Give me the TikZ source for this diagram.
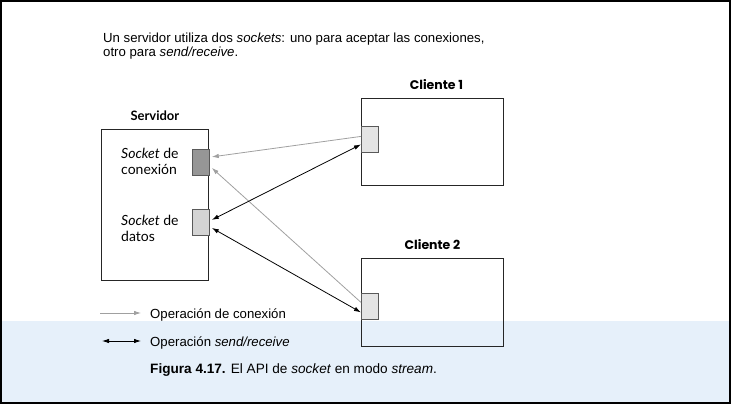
\documentclass[tikz,border=0pt]{standalone}
\usepackage{fontspec}
\setmainfont{Liberation Sans}
\newfontfamily\humfont{Lato}
\newfontfamily\geofont{Poppins}
\usetikzlibrary{arrows.meta,positioning}

\definecolor{bandblue}{RGB}{230,240,250}
\definecolor{conngray}{RGB}{160,160,160}
\definecolor{darksock}{RGB}{150,150,150}
\definecolor{lightsock}{RGB}{212,212,212}
\definecolor{clisock}{RGB}{228,228,228}

\begin{document}
\begin{tikzpicture}[x=1pt,y=-1pt,
	host/.style={draw=black!85, line width=0.8pt, inner sep=0pt, anchor=north west},
	hostname/.style={inner sep=0pt, font=\geofont\fontsize{12.5}{14}\selectfont},
	sock/.style={draw=black!65, line width=0.8pt, inner sep=0pt, anchor=north west,
		minimum width=17pt, minimum height=26pt},
	socktext/.style={inner sep=0pt, anchor=north west, align=left,
		font=\humfont\fontsize{14}{15.5}\selectfont},
	txt/.style={inner sep=0pt, anchor=base west, font=\fontsize{13.2}{15}\selectfont},
	conn/.style={draw=conngray, line width=0.8pt, -{Latex[length=7pt,width=4.5pt]}},
	sendrecv/.style={draw=black, line width=0.8pt,
		{Latex[length=7pt,width=4.5pt]}-{Latex[length=7pt,width=4.5pt]}}]
	\useasboundingbox (0,0) rectangle (731,404);
	% caption band
	\fill [bandblue] (2,321) rectangle (729,402);
	\draw [line width=2pt] (1,1) rectangle (730,403);

	\node [txt] (intro1) at (103,43) {Un servidor utiliza dos \textit{sockets}: uno para aceptar las conexiones,};
	\node [txt] (intro2) at (103,57) {otro para \textit{send/receive}.};

	% servidor
	\node [host, minimum width=107pt, minimum height=151pt] (servidor) at (101,129) {};
	\node [hostname, above=8pt of servidor, font=\humfont\fontsize{13}{14}\selectfont] {\bfseries Servidor};
	\node [sock, fill=darksock] (sockconn) at (192,149) {};
	\node [sock, fill=lightsock] (sockdatos) at (192,209) {};
	\node [socktext] (txtconn) at (121,148) {\textit{Socket} de\\conexión};
	\node [socktext] (txtdatos) at (121,215) {\textit{Socket} de\\datos};

	% clientes
	\node [host, minimum width=142pt, minimum height=87pt] (cliente1) at (361,98) {};
	\node [hostname, above=8pt of cliente1, xshift=4pt] {\bfseries Cliente 1};
	\node [sock, fill=clisock] (sockcli1) at (361,126) {};
	\node [host, minimum width=142pt, minimum height=88pt] (cliente2) at (361,258) {};
	\node [hostname, above=8pt of cliente2] {\bfseries Cliente 2};
	\node [sock, fill=clisock] (sockcli2) at (361,293) {};

	% operaciones
	\draw [conn] ([yshift=3pt]sockcli1.west) -- ([xshift=2pt,yshift=5.5pt]sockconn.east);
	\draw [conn] ([yshift=4pt]sockcli2.west) -- ([xshift=2pt,yshift=-5.5pt]sockconn.east);
	\draw [sendrecv] ([yshift=-5pt]sockcli1.west) -- ([xshift=2pt,yshift=2.5pt]sockdatos.east);
	\draw [sendrecv] ([yshift=-6pt]sockcli2.west) -- ([xshift=2pt,yshift=-5.5pt]sockdatos.east);

	% leyenda
	\coordinate (lc1) at (100,313);
	\coordinate (lc2) at (141,313);
	\coordinate (ls1) at (102,341);
	\coordinate (ls2) at (141,341);
	\draw [conn] (lc1) -- (lc2);
	\draw [sendrecv] (ls1) -- (ls2);
	\node [txt] (legconn) at (150,318) {Operación de conexión};
	\node [txt] (legsr) at (150,346) {Operación \textit{send/receive}};
	\node [txt, font=\fontsize{13.6}{15}\selectfont] (caption) at (150,373) {\textbf{Figura 4.17.} El API de \textit{socket} en modo \textit{stream}.};
\end{tikzpicture}
\end{document}
